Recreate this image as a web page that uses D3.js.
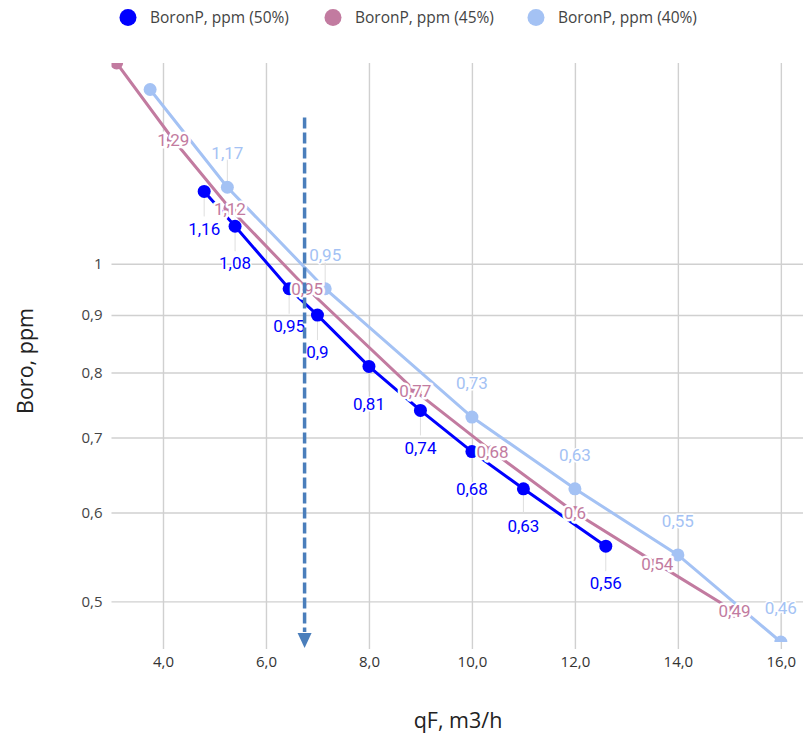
<!DOCTYPE html>
<html>
<head>
<meta charset="utf-8">
<script src="https://cdn.jsdelivr.net/npm/d3@7"></script>
<style>
  body { margin: 0; background: #fff; }
  svg { display: block; }
</style>
</head>
<body>
<svg id="chart" width="803" height="736"></svg>
<script>
// Boron in permeate vs. feed flow, three recovery levels
const seriesNames = ["BoronP, ppm (50%)", "BoronP, ppm (45%)", "BoronP, ppm (40%)"];
const seriesColors = ["#0000ff", "#c27ba0", "#a4c2f4"];
const labelPlacement = ["below", "center", "above"];

const flow50  = [4.8, 5.4, 6.45, 7.0, 8.0, 9.0, 10.0, 11.0, 12.6];
const boron50 = [1.16, 1.08, 0.95, 0.9, 0.81, 0.74, 0.68, 0.63, 0.56];

const flow45  = [3.1, 4.2, 5.3, 6.8, 8.9, 10.4, 12.0, 13.6, 15.1];
const boron45 = [1.51, 1.29, 1.12, 0.95, 0.77, 0.68, 0.6, 0.54, 0.49];

const flow40  = [3.75, 5.25, 7.15, 10.0, 12.0, 14.0, 16.0];
const boron40 = [1.43, 1.17, 0.95, 0.73, 0.63, 0.55, 0.46];

const xTicks = [4, 6, 8, 10, 12, 14, 16];
const yTicks = [0.5, 0.6, 0.7, 0.8, 0.9, 1];

// operating-point marker (vertical dashed arrow)
const markerFlow = 6.75;
const markerTop = 1.35;

const series = [
  { name: seriesNames[0], color: seriesColors[0], place: labelPlacement[0], pts: flow50.map((f, i) => ({ x: f, y: boron50[i] })) },
  { name: seriesNames[1], color: seriesColors[1], place: labelPlacement[1], pts: flow45.map((f, i) => ({ x: f, y: boron45[i] })) },
  { name: seriesNames[2], color: seriesColors[2], place: labelPlacement[2], pts: flow40.map((f, i) => ({ x: f, y: boron40[i] })) }
];

const svg = d3.select("#chart");
const plotLeft = 111.5, plotRight = 803, plotTop = 63, plotBottom = 642;

const x = d3.scaleLinear().domain([3, 16.43]).range([plotLeft, plotRight]);
const y = d3.scaleLog().domain([0.46, 1.51]).range([plotBottom, plotTop]);

const comma = v => String(v).replace(".", ",");
const axisFont = "'Open Sans', 'Noto Sans', sans-serif";

svg.append("defs").append("clipPath").attr("id", "plotClip")
  .append("rect").attr("x", plotLeft).attr("y", plotTop)
  .attr("width", plotRight - plotLeft).attr("height", plotBottom - plotTop);

// horizontal grid + y labels
const yAxis = svg.append("g")
  .attr("transform", `translate(${plotLeft},0)`)
  .call(d3.axisLeft(y).tickValues(yTicks).tickFormat(comma)
        .tickSizeInner(-(plotRight - plotLeft)).tickSizeOuter(0).tickPadding(9));
yAxis.select(".domain").remove();
yAxis.selectAll(".tick line").attr("stroke", "#d0d0d0").attr("stroke-width", 1.4);
yAxis.selectAll(".tick text").attr("font-family", axisFont).attr("font-size", 15).attr("fill", "#444");

// vertical grid + x labels
const xAxis = svg.append("g")
  .attr("transform", `translate(0,${plotBottom})`)
  .call(d3.axisBottom(x).tickValues(xTicks).tickFormat(d => d.toFixed(1).replace(".", ","))
        .tickSizeInner(-(plotBottom - plotTop)).tickSizeOuter(0));
xAxis.select(".domain").remove();
xAxis.selectAll(".tick line").attr("y1", 7).attr("stroke", "#d0d0d0").attr("stroke-width", 1.4);
xAxis.selectAll(".tick text").attr("y", 14).attr("font-family", axisFont).attr("font-size", 15).attr("fill", "#333");

// axis titles
svg.append("text").attr("x", 458).attr("y", 728).attr("text-anchor", "middle")
  .attr("font-family", axisFont).attr("font-size", 21.5).attr("fill", "#222").text("qF, m3/h");
svg.append("text").attr("transform", "translate(33,361) rotate(-90)").attr("text-anchor", "middle")
  .attr("font-family", axisFont).attr("font-size", 21.5).attr("fill", "#222").text("Boro, ppm");

// legend
const legendX = [128, 333, 536];
const legend = svg.append("g");
series.forEach((s, i) => {
  legend.append("circle").attr("cx", legendX[i]).attr("cy", 17.5).attr("r", 8.5).attr("fill", s.color);
  legend.append("text").attr("x", legendX[i] + 22).attr("y", 23)
    .attr("font-family", axisFont).attr("font-size", 15.5).attr("fill", "#444").text(s.name);
});

const plot = svg.append("g").attr("clip-path", "url(#plotClip)");
const line = d3.line().x(d => x(d.x)).y(d => y(d.y));

const labelOffset = { below: 37, center: 0, above: -34 };
const inPlot = (px, py) => px > plotLeft + 10 && px < plotRight - 5 && py > plotTop + 10 && py < plotBottom - 5;

// leader lines from labels to points
series.forEach(s => {
  if (s.place === "center") return;
  s.pts.forEach(p => {
    const px = x(p.x), py = y(p.y), ly = py + labelOffset[s.place];
    if (!inPlot(px, ly)) return;
    const y1 = s.place === "below" ? py : ly + 6;
    const y2 = s.place === "below" ? ly - 12 : py;
    plot.append("line").attr("x1", px).attr("x2", px).attr("y1", y1).attr("y2", y2)
      .attr("stroke", "#dedede").attr("stroke-width", 1);
  });
});

// series lines and points
series.forEach(s => {
  plot.append("path").datum(s.pts).attr("d", line)
    .attr("fill", "none").attr("stroke", s.color).attr("stroke-width", 3);
  plot.selectAll(null).data(s.pts).join("circle")
    .attr("cx", d => x(d.x)).attr("cy", d => y(d.y)).attr("r", 6.5).attr("fill", s.color);
});

// data labels
series.forEach(s => {
  s.pts.forEach(p => {
    const px = x(p.x), ly = y(p.y) + labelOffset[s.place];
    if (!inPlot(px, ly)) return;
    svg.append("text").attr("x", px).attr("y", ly).attr("dy", "0.36em")
      .attr("text-anchor", "middle")
      .attr("font-family", "Roboto, 'Noto Sans', sans-serif").attr("font-size", 17)
      .attr("fill", s.color)
      .attr("stroke", "#fff").attr("stroke-width", s.place === "center" ? 5 : 3)
      .attr("stroke-linejoin", "round").attr("paint-order", "stroke")
      .text(comma(p.y));
  });
});

// operating-point arrow
const ax = x(markerFlow);
svg.append("line").attr("x1", ax).attr("x2", ax)
  .attr("y1", y(markerTop)).attr("y2", plotBottom - 10)
  .attr("stroke", "#4a7ebb").attr("stroke-width", 3.5).attr("stroke-dasharray", "11,4");
svg.append("path")
  .attr("d", `M${ax - 7},${plotBottom - 9}L${ax + 7},${plotBottom - 9}L${ax},${plotBottom + 6}Z`)
  .attr("fill", "#4a7ebb");
</script>
</body>
</html>
